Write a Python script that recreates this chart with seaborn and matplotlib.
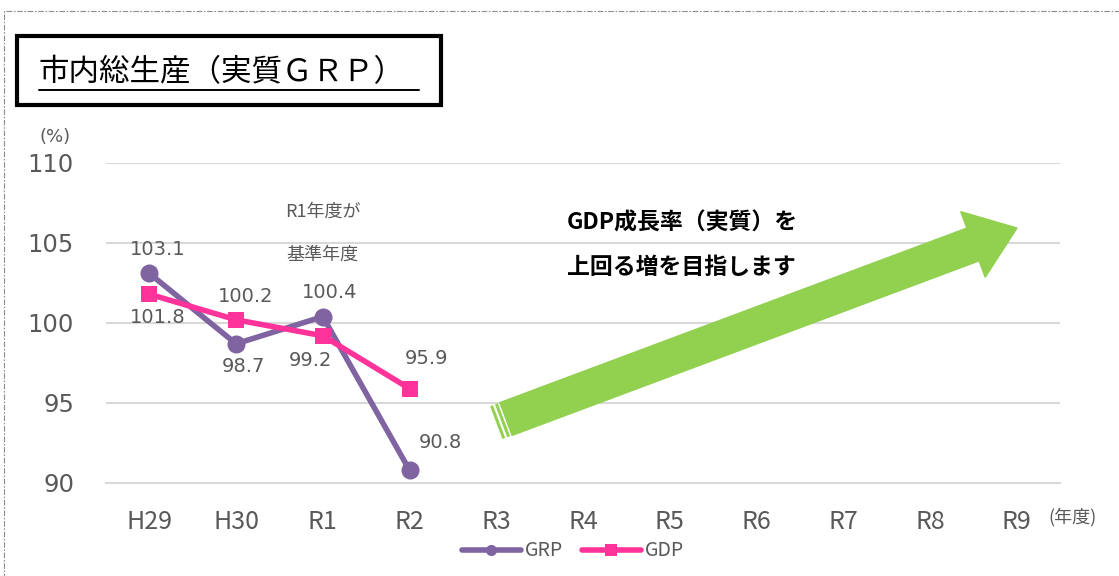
''' real GRP chart (市内総生産) with GDP comparison '''
import numpy as np
import matplotlib
matplotlib.use("Agg")
import matplotlib.pyplot as plt
from matplotlib.patches import Polygon, Rectangle
from matplotlib.lines import Line2D
import seaborn as sns

# data
years = ["H29", "H30", "R1", "R2", "R3", "R4", "R5", "R6", "R7", "R8", "R9"]
grp_years = ["H29", "H30", "R1", "R2"]
grp = [103.1, 98.7, 100.4, 90.8]
gdp = [101.8, 100.2, 99.2, 95.9]
y_ticks = [90, 95, 100, 105, 110]

# label offsets in points (dx, dy)
grp_off = [(6, 17), (5, -16), (5, 17), (22, 20)]
gdp_off = [(6, -17), (7, 17), (-9, -18), (12, 22)]

W, H = 1119, 576
JP = "Noto Sans CJK JP"
GRAY = "#595959"
GRID = "#D9D9D9"
PURPLE = "#8064A2"
PINK = "#FF3399"
GREEN = "#92D050"

sns.set_theme(style="white")
plt.rcParams["font.family"] = ["DejaVu Sans", JP]


def px(x, y):
    ''' pixel coords of the picture -> figure fraction '''
    return x / W, 1 - y / H


fig = plt.figure(figsize=(W / 100, H / 100), dpi=100)
ax = fig.add_axes([106 / W, 1 - 483 / H, 954 / W, 320 / H])

xi = [years.index(y) for y in grp_years]
sns.lineplot(x=xi, y=grp, ax=ax, color=PURPLE, linewidth=4, marker="o",
             markersize=13, markeredgewidth=0, zorder=3, legend=False)
sns.lineplot(x=xi, y=gdp, ax=ax, color=PINK, linewidth=4, marker="s",
             markersize=12, markeredgewidth=0, zorder=4, legend=False)

for x, v, (dx, dy) in zip(xi, grp, grp_off):
    ax.annotate(f"{v:.1f}", (x, v), xytext=(dx, dy), textcoords="offset points",
                ha="center", va="center", fontsize=14, color=GRAY)
for x, v, (dx, dy) in zip(xi, gdp, gdp_off):
    ax.annotate(f"{v:.1f}", (x, v), xytext=(dx, dy), textcoords="offset points",
                ha="center", va="center", fontsize=14, color=GRAY)

ax.text(2, 106.95, "R1年度が", ha="center", va="center", fontsize=13,
        color=GRAY, family=JP)
ax.text(2, 104.3, "基準年度", ha="center", va="center", fontsize=13,
        color=GRAY, family=JP)

ax.set_xlim(-0.5, 10.5)
ax.set_ylim(90, 110)
ax.set_xticks(range(len(years)))
ax.set_xticklabels(years, family=JP, fontsize=18, color=GRAY)
ax.set_xticks(np.arange(-0.5, len(years), 1), minor=True)
ax.set_yticks(y_ticks)
ax.set_yticklabels([str(t) for t in y_ticks], fontsize=17.5, color=GRAY)
ax.tick_params(axis="x", which="major", length=0, pad=19)
ax.tick_params(axis="x", which="minor", length=7, width=1.5, color=GRID)
ax.tick_params(axis="y", length=0, pad=23)
ax.grid(axis="y", color=GRID, linewidth=1.5)
ax.grid(axis="x", visible=False)
for s in ["left", "right", "top"]:
    ax.spines[s].set_visible(False)
ax.spines["bottom"].set_color(GRID)
ax.spines["bottom"].set_linewidth(1.5)
ax.set_xlabel("")
ax.set_ylabel("")

fig.text(*px(55, 137), "(%)", ha="center", va="center", fontsize=13, color=GRAY)
fig.text(*px(1072, 517), "(年度)", ha="center", va="center", fontsize=13,
         color=GRAY, family=JP)

# legend
handles = [Line2D([], [], color=PURPLE, lw=4, marker="o", markersize=8,
                  markeredgewidth=0, solid_capstyle="round"),
           Line2D([], [], color=PINK, lw=4, marker="s", markersize=8,
                  markeredgewidth=0, solid_capstyle="round")]
fig.legend(handles, ["GRP", "GDP"], loc="center", bbox_to_anchor=px(573, 551),
           ncol=2, frameon=False, handlelength=3.0, handletextpad=0.2,
           columnspacing=1.0, labelcolor=GRAY,
           prop={"family": JP, "size": 14})

# green arrow (striped tail)
T = np.array([506.0, 419.0])
P = np.array([1017.0, 228.0])
u = (P - T) / np.linalg.norm(P - T)
n = np.array([-u[1], u[0]])
if n[1] < 0:
    n = -n
h, hh, hl = 17.5, 35.0, 47.0
B = P - u * hl
pts = [T + n * h, B + n * h, B + n * hh, P, B - n * hh, B - n * h, T - n * h]
fig.patches.append(Polygon([px(*p) for p in pts], closed=True, color=GREEN,
                           transform=fig.transFigure, figure=fig))
for a, b in [(2.2, 5.2), (7.4, 10.4)]:
    s = [T - u * a + n * h, T - u * a - n * h, T - u * b - n * h, T - u * b + n * h]
    fig.patches.append(Polygon([px(*p) for p in s], closed=True, color=GREEN,
                               lw=0, transform=fig.transFigure, figure=fig))

fig.text(*px(567, 223), "GDP成長率（実質）を", ha="left", va="center",
         fontsize=16.5, weight="bold", family=JP, color="black")
fig.text(*px(567, 268), "上回る増を目指します", ha="left", va="center",
         fontsize=16.5, weight="bold", family=JP, color="black")

# title box
x0, y0 = px(17, 105)
x1, y1 = px(441, 36)
fig.patches.append(Rectangle((x0, y0), x1 - x0, y1 - y0, fill=False,
                             edgecolor="black", linewidth=3,
                             transform=fig.transFigure, figure=fig))
fig.text(*px(39, 73), "市内総生産（実質ＧＲＰ）", ha="left", va="center",
         fontsize=22, family=JP, color="black")
fig.lines.append(Line2D([39 / W, 419 / W], [1 - 90 / H, 1 - 90 / H],
                        color="black", lw=1.4, transform=fig.transFigure))

# dashed outer frame
bx0, by0 = px(4, 600)
bx1, by1 = px(1130, 11)
fig.patches.append(Rectangle((bx0, by0), bx1 - bx0, by1 - by0, fill=False,
                             edgecolor="#8C8C8C", linewidth=0.8,
                             linestyle=(0, (5, 1.5, 1.5, 1.5)),
                             transform=fig.transFigure, figure=fig))

fig.savefig("out.png", dpi=100)
